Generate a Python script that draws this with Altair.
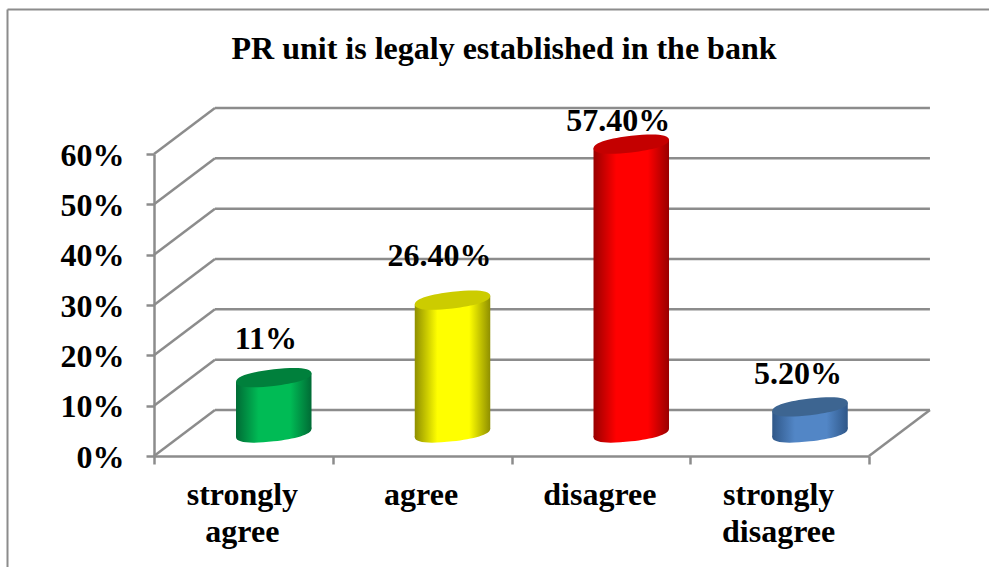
import altair as alt
import pandas as pd

categories = ["strongly\nagree", "agree", "disagree", "strongly\ndisagree"]
values = [11, 26.4, 57.4, 5.2]
value_labels = ["11%", "26.40%", "57.40%", "5.20%"]
y_ticks = [0, 10, 20, 30, 40, 50, 60]

GREY = "#8c8c8c"
SERIF = "Liberation Serif"
LINE = 2.5
# Depth of the 3-D box, in the units of each axis
DEPTH_X = 0.341
DEPTH_Y = 9.14
# Half width of a cylinder and the slant of its ellipses
BAR_HALF = 0.2112
SLANT = 0.85

x_scale = alt.Scale(domain=[0, 4], nice=False, zero=False)
y_scale = alt.Scale(domain=[0, 60], nice=False, zero=False)

x_axis = alt.Axis(
    values=[0, 1, 2, 3, 4],
    labels=False,
    title=None,
    grid=False,
    domainColor=GREY,
    domainWidth=LINE,
    tickColor=GREY,
    tickWidth=LINE,
    tickSize=8,
)
y_axis = alt.Axis(
    values=y_ticks,
    labelExpr="datum.value + '%'",
    title=None,
    grid=False,
    domainColor=GREY,
    domainWidth=LINE,
    tickColor=GREY,
    tickWidth=LINE,
    tickSize=8,
    labelFont=SERIF,
    labelFontWeight="bold",
    labelFontSize=32,
    labelColor="black",
    labelPadding=22,
    labelOffset=1,
)


def ex(field):
    return alt.X(field, scale=x_scale, axis=x_axis)


def ey(field):
    return alt.Y(field, scale=y_scale, axis=y_axis)


def seg(x0, y0, x1, y1):
    return {"x0": x0, "y0": y0, "x1": x1, "y1": y1}


# Horizontal lines on the back wall, the diagonals on the left side and on the floor
lines = [seg(DEPTH_X, v + DEPTH_Y, 4 + DEPTH_X, v + DEPTH_Y) for v in y_ticks]
lines += [seg(0, v, DEPTH_X, v + DEPTH_Y) for v in y_ticks]
lines.append(seg(4, 0, 4 + DEPTH_X, DEPTH_Y))

grid = (
    alt.Chart(pd.DataFrame(lines))
    .mark_rule(color=GREY, strokeWidth=LINE)
    .encode(x=ex("x0:Q"), x2="x1:Q", y=ey("y0:Q"), y2="y1:Q")
)

# Sheared ellipse on the unit square, used for both cylinder caps;
# kv lengthens the handles at the two ends so that they stay round
k, kv, b, s = 0.5523, 0.72, 0.22, 0.115
ELLIPSE = (
    f"M-1,{s} "
    f"C-1,{s - kv * b:.4f} {-k},{-b + s * k:.4f} 0,{-b} "
    f"C{k},{-b - s * k:.4f} 1,{-s - kv * b:.4f} 1,{-s} "
    f"C1,{-s + kv * b:.4f} {k},{b - s * k:.4f} 0,{b} "
    f"C{-k},{b + s * k:.4f} -1,{s + kv * b:.4f} -1,{s} Z"
)


def shaded(dark, bright):
    return alt.Gradient(
        gradient="linear",
        x1=0,
        x2=1,
        y1=0,
        y2=0,
        stops=[
            alt.GradientStop(color=dark, offset=0),
            alt.GradientStop(color=bright, offset=0.3),
            alt.GradientStop(color=bright, offset=0.72),
            alt.GradientStop(color=dark, offset=1),
        ],
    )


def cylinder(i, dark, bright, top, label_dx, label_dy):
    cx = i + 0.67
    floor = DEPTH_Y / 2
    roof = values[i] + DEPTH_Y / 2
    body_df = pd.DataFrame(
        {
            "x": [cx - BAR_HALF, cx + BAR_HALF],
            "lo": [floor - SLANT, floor + SLANT],
            "hi": [roof - SLANT, roof + SLANT],
        }
    )
    caps = pd.DataFrame(
        {"x": [cx, cx], "y": [floor, roof], "part": ["base", "top"]}
    )
    fill = shaded(dark, bright)
    base = (
        alt.Chart(caps[caps.part == "base"])
        .mark_point(shape=ELLIPSE, size=5700, filled=True, fill=fill, opacity=1, strokeWidth=0)
        .encode(x=ex("x:Q"), y=ey("y:Q"))
    )
    body = (
        alt.Chart(body_df)
        .mark_area(color=fill, opacity=1, interpolate="linear")
        .encode(x=ex("x:Q"), y=ey("lo:Q"), y2="hi:Q")
    )
    cap = (
        alt.Chart(caps[caps.part == "top"])
        .mark_point(shape=ELLIPSE, size=5700, filled=True, fill=top, opacity=1, strokeWidth=0)
        .encode(x=ex("x:Q"), y=ey("y:Q"))
    )
    text = (
        alt.Chart(pd.DataFrame({"x": [cx], "y": [roof], "t": [value_labels[i]]}))
        .mark_text(
            font=SERIF,
            fontWeight="bold",
            fontSize=32,
            color="black",
            dx=label_dx,
            dy=label_dy,
        )
        .encode(x=ex("x:Q"), y=ey("y:Q"), text="t:N")
    )
    return [base, body, cap, text]


bars = (
    cylinder(0, "#006b35", "#00bb55", "#00803c", -8, -39)
    + cylinder(1, "#8f8f00", "#ffff00", "#cccc00", -13, -44)
    + cylinder(2, "#990000", "#ff0000", "#c40000", -13, -23)
    + cylinder(3, "#2f5788", "#5286c6", "#3d6591", -12, -33)
)

category_text = (
    alt.Chart(
        pd.DataFrame({"x": [i + 0.5 for i in range(4)], "y": [0] * 4, "t": categories})
    )
    .mark_text(
        font=SERIF,
        fontWeight="bold",
        fontSize=32,
        color="black",
        lineBreak="\n",
        lineHeight=37,
        baseline="alphabetic",
        dx=-1,
        dy=49,
    )
    .encode(x=ex("x:Q"), y=ey("y:Q"), text="t:N")
)

# Outer border of the chart area
frame_left = alt.Chart(pd.DataFrame({"a": [0]})).mark_rule(color=GREY, strokeWidth=2).encode(
    x=alt.value(-146.5), y=alt.value(-144.5), y2=alt.value(413)
)
frame_top = alt.Chart(pd.DataFrame({"a": [0]})).mark_rule(color=GREY, strokeWidth=2).encode(
    x=alt.value(-146.5), x2=alt.value(835), y=alt.value(-144.5)
)

chart = (
    alt.layer(frame_left, frame_top, grid, *bars, category_text)
    .properties(
        width=715,
        height=302,
        padding={"left": 154, "top": 154, "right": 120, "bottom": 111},
        autosize=alt.AutoSizeParams(type="none"),
        title=alt.TitleParams(
            "PR unit is legaly established in the bank",
            font=SERIF,
            fontWeight="bold",
            fontSize=32,
            color="black",
            anchor="middle",
            dx=-7.5,
            offset=-57,
        ),
    )
    .configure_view(stroke=None)
)

chart.save("out.html", embed_options={"renderer": "svg", "actions": False})
